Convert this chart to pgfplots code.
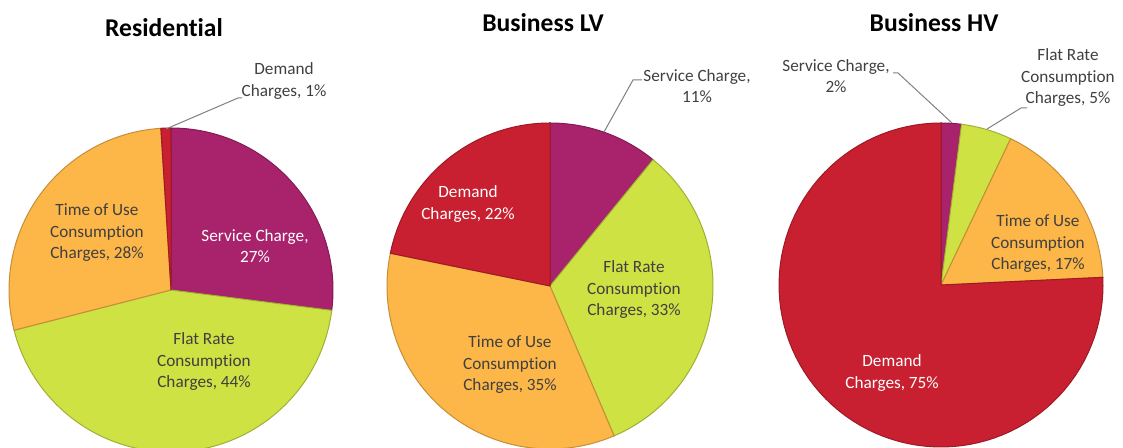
\documentclass[border=0pt]{standalone}
\usepackage{pgfplots}
\pgfplotsset{compat=1.18}
\usepackage{fontspec}
\setmainfont[Ligatures=NoCommon]{Carlito}

\definecolor{svc}{RGB}{168,34,108}
\definecolor{flat}{RGB}{207,226,67}
\definecolor{tou}{RGB}{253,182,72}
\definecolor{dem}{RGB}{200,32,48}
\definecolor{lbl}{RGB}{64,64,64}

% shares in percent, slices go clockwise from 12 o'clock
% Residential: service, flat rate, time of use, demand
\pgfmathsetmacro\kR{360/100}
\pgfmathsetmacro\rA{90}
\pgfmathsetmacro\rB{\rA-27*\kR}
\pgfmathsetmacro\rC{\rB-44*\kR}
\pgfmathsetmacro\rD{\rC-28*\kR}
\pgfmathsetmacro\rE{\rD-1*\kR}
% Business LV (labels add to 101)
\pgfmathsetmacro\kL{360/101}
\pgfmathsetmacro\lA{90}
\pgfmathsetmacro\lB{\lA-11*\kL}
\pgfmathsetmacro\lC{\lB-33*\kL}
\pgfmathsetmacro\lD{\lC-35*\kL}
\pgfmathsetmacro\lE{\lD-22*\kL}
% Business HV (labels add to 99)
\pgfmathsetmacro\kH{360/99}
\pgfmathsetmacro\hA{90}
\pgfmathsetmacro\hB{\hA-2*\kH}
\pgfmathsetmacro\hC{\hB-5*\kH}
\pgfmathsetmacro\hD{\hC-17*\kH}
\pgfmathsetmacro\hE{\hD-75*\kH}

% #1 cx, #2 cy, #3 r, #4 from, #5 to, #6 colour
\newcommand\slice[6]{%
  \addplot[fill=#6, draw=#6!78!black, line width=0.5pt, domain=#4:#5, samples=90, variable=\t]
    ({#1+#3*cos(\t)},{#2+#3*sin(\t)}) -- (axis cs:#1,#2) -- cycle;
}

\tikzset{
  lab/.style={align=center, text=lbl, font=\fontsize{8.6}{10.75}\selectfont, inner sep=0pt},
  wlab/.style={lab, text=white},
  ttl/.style={font=\fontsize{12.8}{14}\selectfont\bfseries, inner sep=0pt},
  leader/.style={draw=gray, line width=0.5pt},
}

\begin{document}
\begin{tikzpicture}
\useasboundingbox (0,0) rectangle (561.5pt,224pt);
\begin{axis}[
    at={(0,0)}, anchor=south west,
    scale only axis, width=561.5pt, height=224pt,
    xmin=0, xmax=1123, ymin=0, ymax=448,
    hide axis, clip=true,
]
% Residential
\slice{171}{158}{162}{\rB}{\rA}{svc}
\slice{171}{158}{162}{\rC}{\rB}{flat}
\slice{171}{158}{162}{\rD}{\rC}{tou}
\slice{171}{158}{162}{\rE}{\rD}{dem}
% Business LV
\slice{550}{162}{163}{\lB}{\lA}{svc}
\slice{550}{162}{163}{\lC}{\lB}{flat}
\slice{550}{162}{163}{\lD}{\lC}{tou}
\slice{550}{162}{163}{\lE}{\lD}{dem}
% Business HV
\slice{941}{163}{162}{\hB}{\hA}{svc}
\slice{941}{163}{162}{\hC}{\hB}{flat}
\slice{941}{163}{162}{\hD}{\hC}{tou}
\slice{941}{163}{162}{\hE}{\hD}{dem}

% leader lines
\addplot[leader] coordinates {(166,319) (238,350) (242,350)};
\addplot[leader] coordinates {(604,316) (633,368) (642,368)};
\addplot[leader] coordinates {(893,375) (898,375) (952,325)};
\addplot[leader] coordinates {(1027,340) (1021,340) (987,319)};

% titles
\node[ttl] at (axis cs:164,420) {Residential};
\node[ttl] at (axis cs:543,425) {Business LV};
\node[ttl] at (axis cs:934,425) {Business HV};

% slice labels
\node[lab] at (axis cs:284,367) {Demand\\Charges, 1\%};
\node[lab] at (axis cs:97,215) {Time of Use\\Consumption\\Charges, 28\%};
\node[wlab] at (axis cs:255,202) {Service Charge,\\27\%};
\node[lab] at (axis cs:204,86) {Flat Rate\\Consumption\\Charges, 44\%};

\node[lab] at (axis cs:697,362) {Service Charge,\\11\%};
\node[wlab] at (axis cs:468,244) {Demand\\Charges, 22\%};
\node[lab] at (axis cs:634,158) {Flat Rate\\Consumption\\Charges, 33\%};
\node[lab] at (axis cs:510,83) {Time of Use\\Consumption\\Charges, 35\%};

\node[lab] at (axis cs:836,372) {Service Charge,\\2\%};
\node[lab] at (axis cs:1068,370) {Flat Rate\\Consumption\\Charges, 5\%};
\node[lab] at (axis cs:1038,204) {Time of Use\\Consumption\\Charges, 17\%};
\node[wlab] at (axis cs:892,75) {Demand\\Charges, 75\%};
\end{axis}
\end{tikzpicture}
\end{document}
